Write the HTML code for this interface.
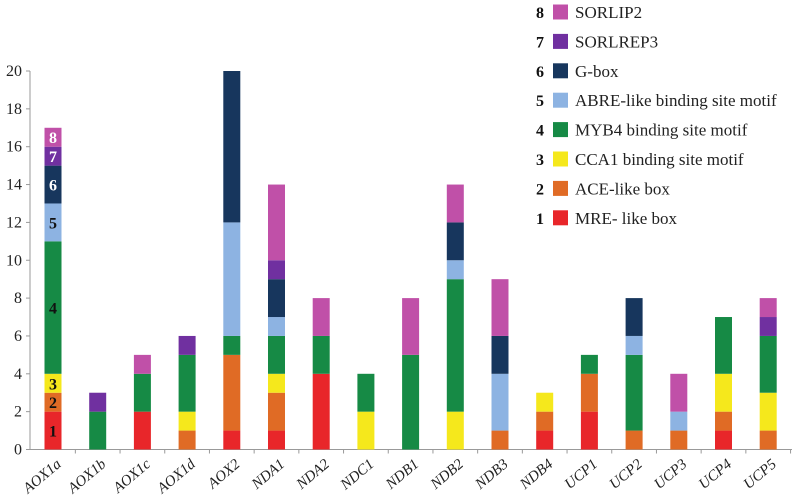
<!DOCTYPE html>
<html><head><meta charset="utf-8"><style>
body{margin:0;background:#fff;}
svg{display:block;font-family:"Liberation Serif",serif;}
</style></head><body>
<svg id="chart" width="800" height="503" viewBox="0 0 800 503" xmlns="http://www.w3.org/2000/svg"></svg>
<script>
const categories=["AOX1a","AOX1b","AOX1c","AOX1d","AOX2","NDA1","NDA2","NDC1","NDB1","NDB2","NDB3","NDB4","UCP1","UCP2","UCP3","UCP4","UCP5"];
const seriesNames=["MRE- like box","ACE-like box","CCA1 binding site motif","MYB4 binding site motif","ABRE-like binding site motif","G-box","SORLREP3","SORLIP2"];
const seriesColors=["#e8262a","#e06b25","#f5e81c","#168a45","#8db3e2","#17365d","#7030a0","#c050a8"];
const mre     =[2,0,2,0,1,1,4,0,0,0,0,1,2,0,0,1,0];
const ace     =[1,0,0,1,4,2,0,0,0,0,1,1,2,1,1,1,1];
const cca1    =[1,0,0,1,0,1,0,2,0,2,0,1,0,0,0,2,2];
const myb4    =[7,2,2,3,1,2,2,2,5,7,0,0,1,4,0,3,3];
const abre    =[2,0,0,0,6,1,0,0,0,1,3,0,0,1,1,0,0];
const gbox    =[2,0,0,0,8,2,0,0,0,2,2,0,0,2,0,0,0];
const sorlrep3=[1,1,0,1,0,1,0,0,0,0,0,0,0,0,0,0,1];
const sorlip2 =[1,0,1,0,0,4,2,0,3,2,3,0,0,0,2,0,1];
const series=[mre,ace,cca1,myb4,abre,gbox,sorlrep3,sorlip2];
const yTicks=[0,2,4,6,8,10,12,14,16,18,20];

const NS="http://www.w3.org/2000/svg";
const svg=document.getElementById("chart");
const y0=449.5,y20=71,x0=53,dx=44.7,bw=17;
const yScale=v=>y0-(y0-y20)*v/20;
const xScale=i=>x0+dx*i;
function mk(tag,attrs,parent){const e=document.createElementNS(NS,tag);for(const k in attrs)e.setAttribute(k,attrs[k]);(parent||svg).appendChild(e);return e;}

// y axis
const yAxis=mk("g",{});


mk("line",{x1:30,y1:yScale(0),x2:30,y2:yScale(20),stroke:"#999","stroke-width":1},yAxis);
yTicks.forEach(t=>{
  mk("line",{x1:26,y1:yScale(t),x2:30,y2:yScale(t),stroke:"#999"},yAxis);
  const tx=mk("text",{x:22,y:yScale(t)+5,"text-anchor":"end","font-size":16,fill:"#222"},yAxis);
  tx.textContent=t;
  
  
});
// x axis
const xAxis=mk("g",{});


mk("line",{x1:30,y1:yScale(0),x2:792,y2:yScale(0),stroke:"#999"},xAxis);
categories.forEach((c,i)=>{
  const tx=xScale(i)+dx/2;
  mk("line",{x1:tx,y1:yScale(0),x2:tx,y2:yScale(0)+4,stroke:"#999"},xAxis);
});
// bars
categories.forEach((c,i)=>{
  const g=mk("g",{});
  
  
  let acc=0;
  series.forEach((s,k)=>{
    const v=s[i]; if(!v)return;
    const r=mk("rect",{x:xScale(i)-bw/2,y:yScale(acc+v),width:bw,height:yScale(acc)-yScale(acc+v),fill:seriesColors[k]},g);
    
    
    acc+=v;
  });
  const lab=mk("text",{x:0,y:0,"text-anchor":"end","font-size":15,"font-style":"italic",fill:"#222",transform:`translate(${xScale(i)+9},${yScale(0)+16}) rotate(-40)`});
  lab.textContent=c;
  
  
});
// numbers in first bar
(function(){
  let acc=0;
  series.forEach((s,k)=>{
    const v=s[0];
    const t=mk("text",{x:xScale(0),y:(yScale(acc)+yScale(acc+v))/2+6,"text-anchor":"middle","font-size":16,"font-weight":"bold",fill:k>=5?"#fff":"#111"});
    t.textContent=k+1;
    
    
    acc+=v;
  });
})();
// legend
const leg=mk("g",{});


for(let k=7;k>=0;k--){
  const row=7-k, cy=12+row*29.4;
  const e=mk("g",{},leg);
  
  
  const n=mk("text",{x:540,y:cy+6,"text-anchor":"middle","font-size":16,"font-weight":"bold",fill:"#111"},e);
  n.textContent=k+1;
  mk("rect",{x:553,y:cy-7.5,width:15,height:15,fill:seriesColors[k]},e);
  const t=mk("text",{x:575,y:cy+6,"font-size":17,fill:"#222"},e);
  t.textContent=seriesNames[k];
}
</script>
</body></html>
